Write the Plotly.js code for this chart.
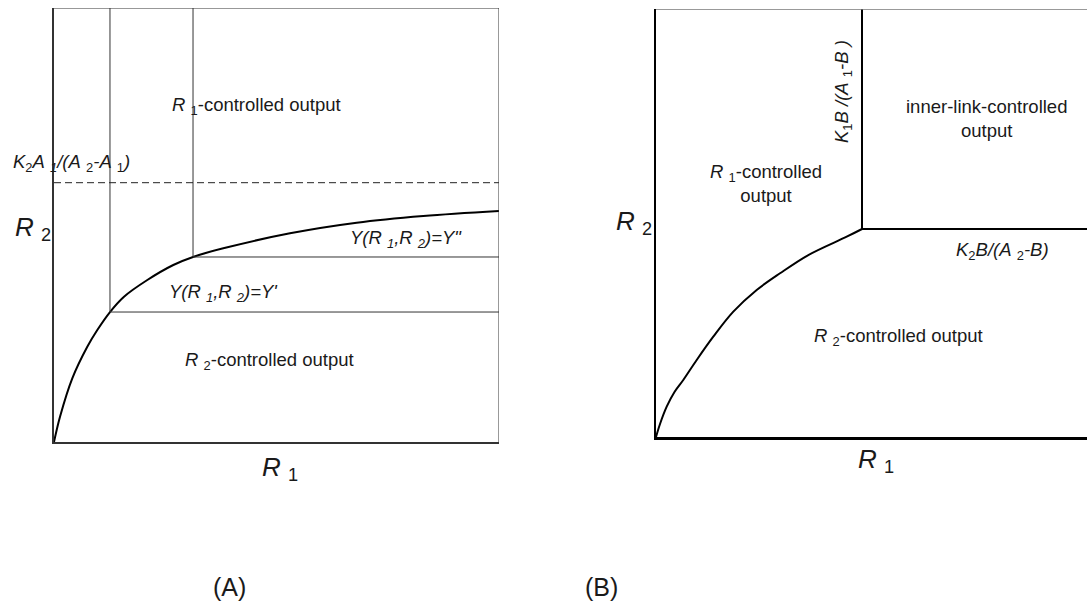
<!DOCTYPE html>
<html><head><meta charset="utf-8">
<script src="https://cdn.plot.ly/plotly-3.0.1.min.js"></script>
<style>html,body{margin:0;padding:0;background:#fff}#c{width:1087px;height:603px}</style>
</head><body><div id="c"></div>
<script>
// Panel A: R1 vs R2 (normalized 0-100)
var curveA_x = [0, 1.35, 4.11, 7.48, 9.73, 12.58, 15.73, 20.97, 26.81, 31.24, 38.04, 53.03, 68.02, 82.99, 100];
var curveA_y = [0, 5.83, 14.68, 21.96, 25.81, 29.95, 33.48, 37.33, 40.78, 42.63, 44.63, 48.09, 50.53, 52.07, 53.23];
var levelA_x = [12.58, 31.24];        // R1 at which Y' and Y'' curves turn
var levelA_y = [29.95, 42.63];        // R2 of Y' and Y''
var dashA_y = 59.75;                   // K2A1/(A2-A1)
// Panel B
var curveB_x = [0, 0.93, 2.48, 4.29, 6.33, 9.44, 13.29, 17.94, 23.36, 28.77, 35.34, 44.25, 47.8];
var curveB_y = [0, 3.04, 7.08, 10.51, 13.32, 17.99, 23.43, 29.28, 34.35, 38.25, 42.52, 46.80, 48.6];
var cornerB_x = 47.8;  // K1B/(A1-B)
var cornerB_y = 48.6;  // K2B/(A2-B)

var F = 'Arial, "Liberation Sans", sans-serif';
var TC = '#1a1a1a';
var traces = [];
function ln(x, y, ax, col, w, dash, shape){
  traces.push({x:x, y:y, xaxis:ax==1?'x':'x2', yaxis:ax==1?'y':'y2', mode:'lines',
    line:{color:col, width:w, dash:dash||'solid', shape:shape||'linear', smoothing:1},
    hoverinfo:'skip', showlegend:false});
}
// A
ln(curveA_x, curveA_y, 1, '#000', 2, null, 'spline');
for (var i=0;i<levelA_x.length;i++){
  ln([levelA_x[i], levelA_x[i]], [levelA_y[i], 100], 1, '#333', 1);
  ln([levelA_x[i], 100], [levelA_y[i], levelA_y[i]], 1, '#333', 1);
}
ln([0,100],[dashA_y,dashA_y],1,'#222',1,'7px,4px');
// B
ln(curveB_x, curveB_y, 2, '#000', 2, null, 'spline');
ln([cornerB_x, cornerB_x],[cornerB_y,100],2,'#000',2);
ln([cornerB_x, 100],[cornerB_y,cornerB_y],2,'#000',2);

function P(px,py){return {x:px/1087, y:1-py/603};}
var ann = [];
function t(px,py,txt,size,opt){
  var p=P(px,py);
  var a={xref:'paper',yref:'paper',x:p.x,y:p.y,text:txt,showarrow:false,
    font:{family:F,size:size,color:TC},xanchor:'center',yanchor:'middle'};
  for (var k in opt) a[k]=opt[k];
  ann.push(a);
}
var S=18.5;
t(256,106,'<i>R</i> <sub>1</sub>-controlled output',S);
t(11,163,'<i>K</i><sub>2</sub><i>A</i> <sub><i>1</i></sub><i>/(A</i> <sub>2</sub><i>-A</i> <sub>1</sub><i>)</i>',S,{xanchor:'left'});
t(406,239,'<i>Y(R</i> <sub><i>1</i></sub><i>,R</i> <sub><i>2</i></sub><i>)=Y"</i>',S);
t(223,293,"<i>Y(R</i> <sub><i>1</i></sub><i>,R</i> <sub><i>2</i></sub><i>)=Y'</i>",S);
t(269,361,'<i>R</i> <sub>2</sub>-controlled output',S);
t(33,228,'<i>R</i> <sub>2</sub>',26);
t(280,468,'<i>R</i> <sub>1</sub>',26);
t(229,587,'(A)',25);
// B
t(843,92,'<i>K</i><sub>1</sub><i>B</i> <i>/(A</i> <sub>1</sub><i>-B</i> <i>)</i>',S,{textangle:-90});
t(987,118,'inner-link-controlled<br>output',S);
t(766,183,'<i>R</i> <sub>1</sub>-controlled<br>output',S);
t(1002,251,'<i>K</i><sub>2</sub><i>B/(A</i> <sub>2</sub><i>-B)</i>',S);
t(898,337,'<i>R</i> <sub>2</sub>-controlled output',S);
t(634,222,'<i>R</i> <sub>2</sub>',26);
t(876,460,'<i>R</i> <sub>1</sub>',26);
t(601,587,'(B)',25);

var xA=[54/1087,499/1087], yA=[1-442/603,1-8/603];
var xB=[656/1087,1], yB=[1-437/603,1-9/603];
function ax(dom,col,w){return {domain:dom,range:[0,100],showgrid:false,zeroline:false,showticklabels:false,ticks:'',
  showline:true,linecolor:col,linewidth:w,mirror:false,fixedrange:true};}
var shapes=[
  {type:'line',xref:'x',yref:'y',x0:0,x1:100,y0:100,y1:100,line:{color:'#333',width:1}},
  {type:'line',xref:'x',yref:'y',x0:100,x1:100,y0:0,y1:100,line:{color:'#333',width:1}},
  {type:'line',xref:'x2',yref:'y2',x0:0,x1:100,y0:100,y1:100,line:{color:'#777',width:1.5}}
];
var layout={width:1087,height:603,margin:{l:0,r:0,t:0,b:0},paper_bgcolor:'#fff',plot_bgcolor:'rgba(0,0,0,0)',
  xaxis:ax(xA,'#333',2), yaxis:ax(yA,'#333',2),
  xaxis2:ax(xB,'#000',2.5), yaxis2:ax(yB,'#000',2.5),
  annotations:ann, shapes:shapes, showlegend:false};
layout.xaxis.anchor='y'; layout.yaxis.anchor='x';
layout.xaxis2.anchor='y2'; layout.yaxis2.anchor='x2';
Plotly.newPlot('c',traces,layout,{displayModeBar:false,staticPlot:true});
</script></body></html>
